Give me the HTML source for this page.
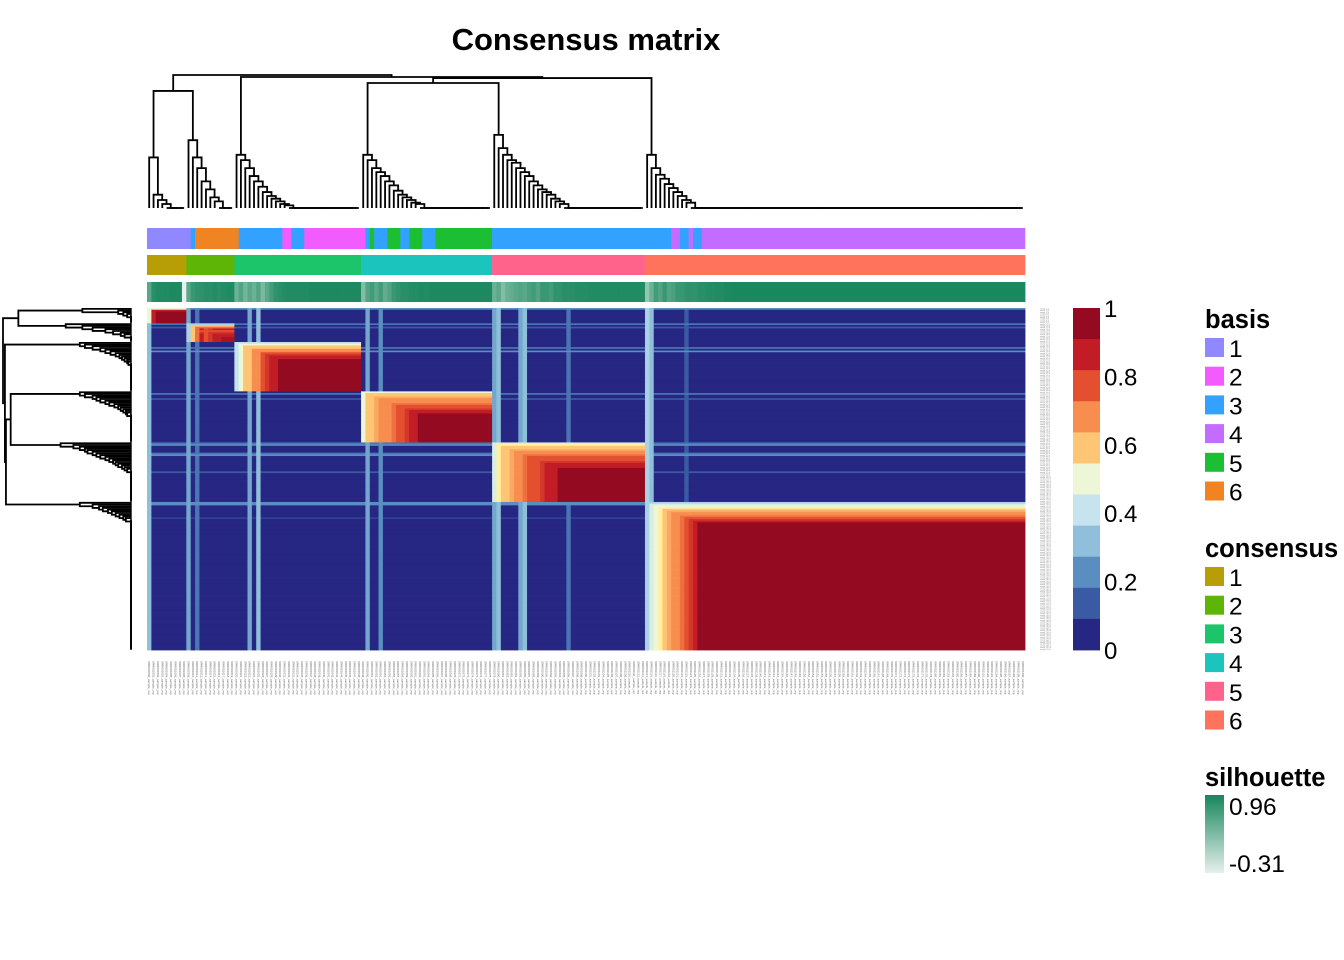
<!DOCTYPE html>
<html><head><meta charset="utf-8">
<style>
body{margin:0;background:#fff;width:1344px;height:960px;overflow:hidden;font-family:"Liberation Sans",Arial,sans-serif}
svg{display:block}
</style></head>
<body>
<svg id="chart" width="1344" height="960" viewBox="0 0 1344 960" xmlns="http://www.w3.org/2000/svg">
<text x="586" y="50" text-anchor="middle" font-size="31" font-weight="bold">Consensus matrix</text>
<g id="dendTop"></g>
<g id="dendLeft"></g>
<g id="annBasis"></g>
<g id="annCons"></g>
<g id="annSil"></g>
<g id="heat"></g>
<g id="rowLabels"></g>
<g id="colLabels"></g>
<g id="colorbar"></g>
<g id="legends"></g>
</svg>
<script>
// ---- data ----
const clusterStrength = [
 [0.5,0.92,0.99,0.99,0.99,0.99,0.99,0.99,0.99],
 [0.35,0.6,0.75,0.9,0.8,0.85,0.88,0.9,0.95,0.95,0.95],
 [0.42,0.5,0.6,0.62,0.68,0.7,0.82,0.85,0.88,0.9,0.99,0.99,0.99,0.99,0.99,0.99,0.99,0.99,0.99,0.99,0.99,0.99,0.99,0.99,0.99,0.99,0.99,0.99,0.99],
 [0.5,0.6,0.62,0.65,0.68,0.7,0.72,0.75,0.8,0.82,0.85,0.88,0.9,0.99,0.99,0.99,0.99,0.99,0.99,0.99,0.99,0.99,0.99,0.99,0.99,0.99,0.99,0.99,0.99,0.99],
 [0.45,0.55,0.6,0.62,0.65,0.7,0.72,0.75,0.78,0.8,0.82,0.85,0.88,0.9,0.92,0.99,0.99,0.99,0.99,0.99,0.99,0.99,0.99,0.99,0.99,0.99,0.99,0.99,0.99,0.99,0.99,0.99,0.99,0.99,0.99],
 [0.35,0.45,0.5,0.55,0.6,0.65,0.68,0.7,0.75,0.8,0.85,0.9,0.99,0.99,0.99,0.99,0.99,0.99,0.99,0.99,0.99,0.99,0.99,0.99,0.99,0.99,0.99,0.99,0.99,0.99,0.99,0.99,0.99,0.99,0.99,0.99,0.99,0.99,0.99,0.99,0.99,0.99,0.99,0.99,0.99,0.99,0.99,0.99,0.99,0.99,0.99,0.99,0.99,0.99,0.99,0.99,0.99,0.99,0.99,0.99,0.99,0.99,0.99,0.99,0.99,0.99,0.99,0.99,0.99,0.99,0.99,0.99,0.99,0.99,0.99,0.99,0.99,0.99,0.99,0.99,0.99,0.99,0.99,0.99,0.99,0.99,0.99]
];
const leakIndex = [0,9,11,23,25,50,53,79,80,85,86,96,114,115,123];
const leakValue = [0.3,0.25,0.15,0.25,0.3,0.25,0.2,0.25,0.3,0.25,0.3,0.15,0.35,0.3,0.12];
const basisRunLabel = [1,3,6,3,2,3,2,3,5,3,5,3,5,3,5,3,4,3,4,3,4];
const basisRunCount = [10,1,10,10,2,3,14,1,1,3,3,2,3,3,13,41,2,2,1,2,74];
const silhouette = [
 [0.55,0.85,0.9,0.9,0.9,0.92,0.92,0.92,-0.31],
 [0.55,0.75,0.8,0.82,0.85,0.85,0.88,0.85,0.88,0.9,0.9],
 [0.45,0.6,0.4,0.55,0.45,0.6,0.35,0.55,0.7,0.8,0.85,0.88,0.9,0.9,0.9,0.9,0.9,0.92,0.92,0.92,0.92,0.92,0.92,0.92,0.92,0.92,0.92,0.92,0.92],
 [0.3,0.6,0.7,0.55,0.7,0.5,0.6,0.75,0.8,0.85,0.85,0.88,0.88,0.9,0.9,0.9,0.92,0.92,0.92,0.92,0.92,0.92,0.92,0.92,0.92,0.92,0.92,0.92,0.92,0.92],
 [0.45,0.55,0.3,0.45,0.5,0.55,0.6,0.55,0.65,0.7,0.6,0.75,0.75,0.7,0.8,0.8,0.85,0.85,0.85,0.88,0.88,0.88,0.9,0.9,0.9,0.9,0.9,0.9,0.9,0.9,0.9,0.9,0.9,0.9,0.9],
 [0.2,0.45,0.7,0.6,0.75,0.6,0.65,0.75,0.75,0.8,0.82,0.8,0.85,0.85,0.88,0.88,0.9,0.9,0.92,0.92,0.94,0.94,0.94,0.94,0.94,0.94,0.94,0.94,0.94,0.94,0.94,0.94,0.94,0.94,0.94,0.94,0.94,0.94,0.94,0.94,0.94,0.94,0.94,0.94,0.94,0.94,0.94,0.94,0.94,0.94,0.94,0.94,0.94,0.94,0.94,0.94,0.94,0.94,0.94,0.94,0.94,0.94,0.94,0.94,0.94,0.94,0.94,0.94,0.94,0.94,0.94,0.94,0.94,0.94,0.94,0.94,0.94,0.94,0.94,0.94,0.94,0.94,0.94,0.94,0.94,0.94,0.94]
];
const clusterTopH = [0.38,0.51,0.40,0.40,0.55,0.40];
const chainH = [
 [0.38,0.1,0.06,0.03],
 [0.51,0.38,0.3,0.2,0.14,0.08,0.05],
 [0.40,0.36,0.3,0.24,0.2,0.16,0.12,0.09,0.07,0.05,0.03,0.02],
 [0.40,0.36,0.3,0.27,0.24,0.2,0.17,0.13,0.1,0.08,0.06,0.04,0.03],
 [0.55,0.45,0.4,0.36,0.34,0.3,0.27,0.24,0.2,0.17,0.14,0.12,0.1,0.07,0.05,0.03],
 [0.40,0.3,0.25,0.22,0.18,0.15,0.12,0.09,0.06,0.04]
];
const mergeH = {c12:0.88, c45:0.94, c456:0.977, c3456:0.985, root:1.0};
const paletteVals = [0,0.1,0.2,0.3,0.4,0.5,0.55,0.6,0.7,0.8,0.9,1];
const paletteCols = ["#262783","#3A5BA3","#5A8EC1","#8FBFDA","#C6E4EE","#EDF6D6","#FFF0A0","#FDC574","#F88D50","#E4502F","#C21C26","#940A21"];
const basisColors = {1:"#8F88FF",2:"#F25CFF",3:"#33A1FF",4:"#C46CFF",5:"#1CBF34",6:"#F08322"};
const consColors = ["#B89E06","#5EB506","#1CC46A","#1CC4BE","#FF638C","#FF735C"];
const colorbarTicks = ["1","0.8","0.6","0.4","0.2","0"];

// ---- layout ----
const NS="http://www.w3.org/2000/svg";
const X0=147,X1=1025,Y0=308,Y1=650;
const strength=[],cluster=[],sil=[];
clusterStrength.forEach((a,k)=>a.forEach((v,i)=>{strength.push(v);cluster.push(k);sil.push(silhouette[k][i]);}));
const N=strength.length;
const leak=new Array(N).fill(0.02);
leakIndex.forEach((ix,i)=>{leak[ix]=leakValue[i];});
const cw=(X1-X0)/N, rh=(Y1-Y0)/N;
const xOf=i=>X0+i*cw, yOf=i=>Y0+i*rh;
function hex(c){return [1,3,5].map(i=>parseInt(c.substr(i,2),16));}
function toHex(a){return "#"+a.map(v=>Math.round(v).toString(16).padStart(2,"0")).join("");}
function mix(a,b,t){const A=hex(a),B=hex(b);return toHex(A.map((v,i)=>v+(B[i]-v)*t));}
function heatColor(v){v=Math.max(0,Math.min(1,v));for(let i=0;i<paletteVals.length-1;i++){if(v<=paletteVals[i+1]){return mix(paletteCols[i],paletteCols[i+1],(v-paletteVals[i])/(paletteVals[i+1]-paletteVals[i]));}}return paletteCols[paletteCols.length-1];}
function silColor(v){return mix("#E6F0EC","#17865C",(v+0.31)/1.27);}
function mk(tag,attrs,parent){const e=document.createElementNS(NS,tag);for(const k in attrs)e.setAttribute(k,attrs[k]);parent.appendChild(e);return e;}
function consensus(i,j){
 if(cluster[i]===cluster[j])return Math.min(strength[i],strength[j]);
 return Math.max(leak[j],leak[i]*0.6);
}
const heat=document.getElementById("heat");
for(let i=0;i<N;i++){
 let j=0;
 while(j<N){
  const v=Math.round(consensus(i,j)*20)/20;let k=j+1;
  while(k<N&&Math.round(consensus(i,k)*20)/20===v)k++;
  const r=mk("rect",{x:xOf(j).toFixed(2),y:yOf(i).toFixed(2),width:(xOf(k)-xOf(j)+0.4).toFixed(2),height:(rh+0.4).toFixed(2),fill:heatColor(v)},heat);
  
  
  j=k;
 }
}
const gB=document.getElementById("annBasis");let p=0;
basisRunLabel.forEach((lab,i)=>{const r=mk("rect",{x:xOf(p),y:228,width:basisRunCount[i]*cw+0.3,height:21,fill:basisColors[lab]},gB);
 p+=basisRunCount[i];});
const gC=document.getElementById("annCons");p=0;
clusterStrength.forEach((a,k)=>{const r=mk("rect",{x:xOf(p),y:255,width:a.length*cw+0.3,height:20,fill:consColors[k]},gC);
 p+=a.length;});
const gS=document.getElementById("annSil");
sil.forEach((v,i)=>{const r=mk("rect",{x:xOf(i),y:282,width:cw+0.4,height:20,fill:silColor(v)},gS);
 });
function buildCluster(k,start){
 const n=clusterStrength[k].length,h=chainH[k];
 let node={pos:start+n-1+0.5,h:0};const segs=[];
 for(let m=n-2;m>=h.length;m--){const leaf={pos:start+m+0.5,h:0};segs.push([leaf,node,0]);node={pos:(leaf.pos+node.pos)/2,h:0};}
 for(let m=Math.min(h.length,n-1)-1;m>=0;m--){const leaf={pos:start+m+0.5,h:0};segs.push([leaf,node,h[m]]);node={pos:(leaf.pos+node.pos)/2,h:h[m]};}
 return {node,segs};
}
const cl=[];p=0;clusterStrength.forEach((a,k)=>{cl.push(buildCluster(k,p));p+=a.length;});
const allSegs=[];cl.forEach(c=>allSegs.push(...c.segs));
function merge(a,b,h){allSegs.push([a,b,h]);return {pos:(a.pos+b.pos)/2,h};}
const n12=merge(cl[0].node,cl[1].node,mergeH.c12);
const n45=merge(cl[3].node,cl[4].node,mergeH.c45);
const n456=merge(n45,cl[5].node,mergeH.c456);
const n3456=merge(cl[2].node,n456,mergeH.c3456);
merge(n12,n3456,mergeH.root);
const dT=document.getElementById("dendTop"),dL=document.getElementById("dendLeft");
const ty=h=>208-h*133, lx=h=>131-h*128;
allSegs.forEach(([a,b,h])=>{
 const xa=X0+a.pos*cw,xb=X0+b.pos*cw;
 const e=mk("path",{d:`M${xa},${ty(a.h)}V${ty(h)}H${xb}V${ty(b.h)}`,fill:"none",stroke:"#000","stroke-width":1.8},dT);
 
 const ya=Y0+a.pos*rh,yb=Y0+b.pos*rh;
 const f=mk("path",{d:`M${lx(a.h)},${ya}H${lx(h)}V${yb}H${lx(b.h)}`,fill:"none",stroke:"#000","stroke-width":1.8},dL);
 
});
mk("line",{x1:131,y1:Y0,x2:131,y2:Y1,stroke:"#000","stroke-width":1.4},dL);
const rl=document.getElementById("rowLabels"),cLab=document.getElementById("colLabels");
for(let i=0;i<N;i++){
 const t=mk("text",{x:1040,y:yOf(i)+rh*0.9,"font-size":1.6,fill:"#888"},rl);t.textContent="sample_"+(i+1)+"_id";
 
 const cx=xOf(i)+cw/2-1;
 const u=mk("text",{x:cx,y:661,"font-size":3,fill:"#666",transform:`rotate(90 ${cx} 661)`},cLab);u.textContent="SRR00"+(1000+i)+"_sample_rep";
 
}
const cb=document.getElementById("colorbar");const nb=11,bh=(Y1-Y0)/nb;
for(let i=0;i<nb;i++){const v=1-i/(nb-1);
 const r=mk("rect",{x:1073,y:Y0+i*bh,width:27,height:bh+0.4,fill:heatColor(v)},cb);
 }
colorbarTicks.forEach((t,i)=>{const y=Y0+i*(Y1-Y0)/5+9;const e=mk("text",{x:1104,y:y,"font-size":24},cb);e.textContent=t;
 });
const lg=document.getElementById("legends");
function title(txt,y){const e=mk("text",{x:1205,y:y,"font-size":25.5,"font-weight":"bold"},lg);e.textContent=txt;
 }
function entry(col,lab,y){const g=mk("g",{},lg);
 mk("rect",{x:1205,y:y,width:19,height:19,fill:col},g);const t=mk("text",{x:1229,y:y+19,"font-size":24.5},g);t.textContent=lab;}
title("basis",328);[1,2,3,4,5,6].forEach((k,i)=>entry(basisColors[k],String(k),338+i*28.7));
title("consensus",557);consColors.forEach((c,i)=>entry(c,String(i+1),567+i*28.7));
title("silhouette",786);
const defs=mk("defs",{},lg);const gr=mk("linearGradient",{id:"silg",x1:0,y1:0,x2:0,y2:1},defs);
mk("stop",{offset:0,"stop-color":"#17865C"},gr);mk("stop",{offset:1,"stop-color":"#E6F0EC"},gr);
const sb=mk("rect",{x:1205,y:795,width:19,height:78,fill:"url(#silg)"},lg);
const s1=mk("text",{x:1229,y:815,"font-size":24.5},lg);s1.textContent="0.96";
const s2=mk("text",{x:1229,y:872,"font-size":24.5},lg);s2.textContent="-0.31";
</script>
</body></html>
